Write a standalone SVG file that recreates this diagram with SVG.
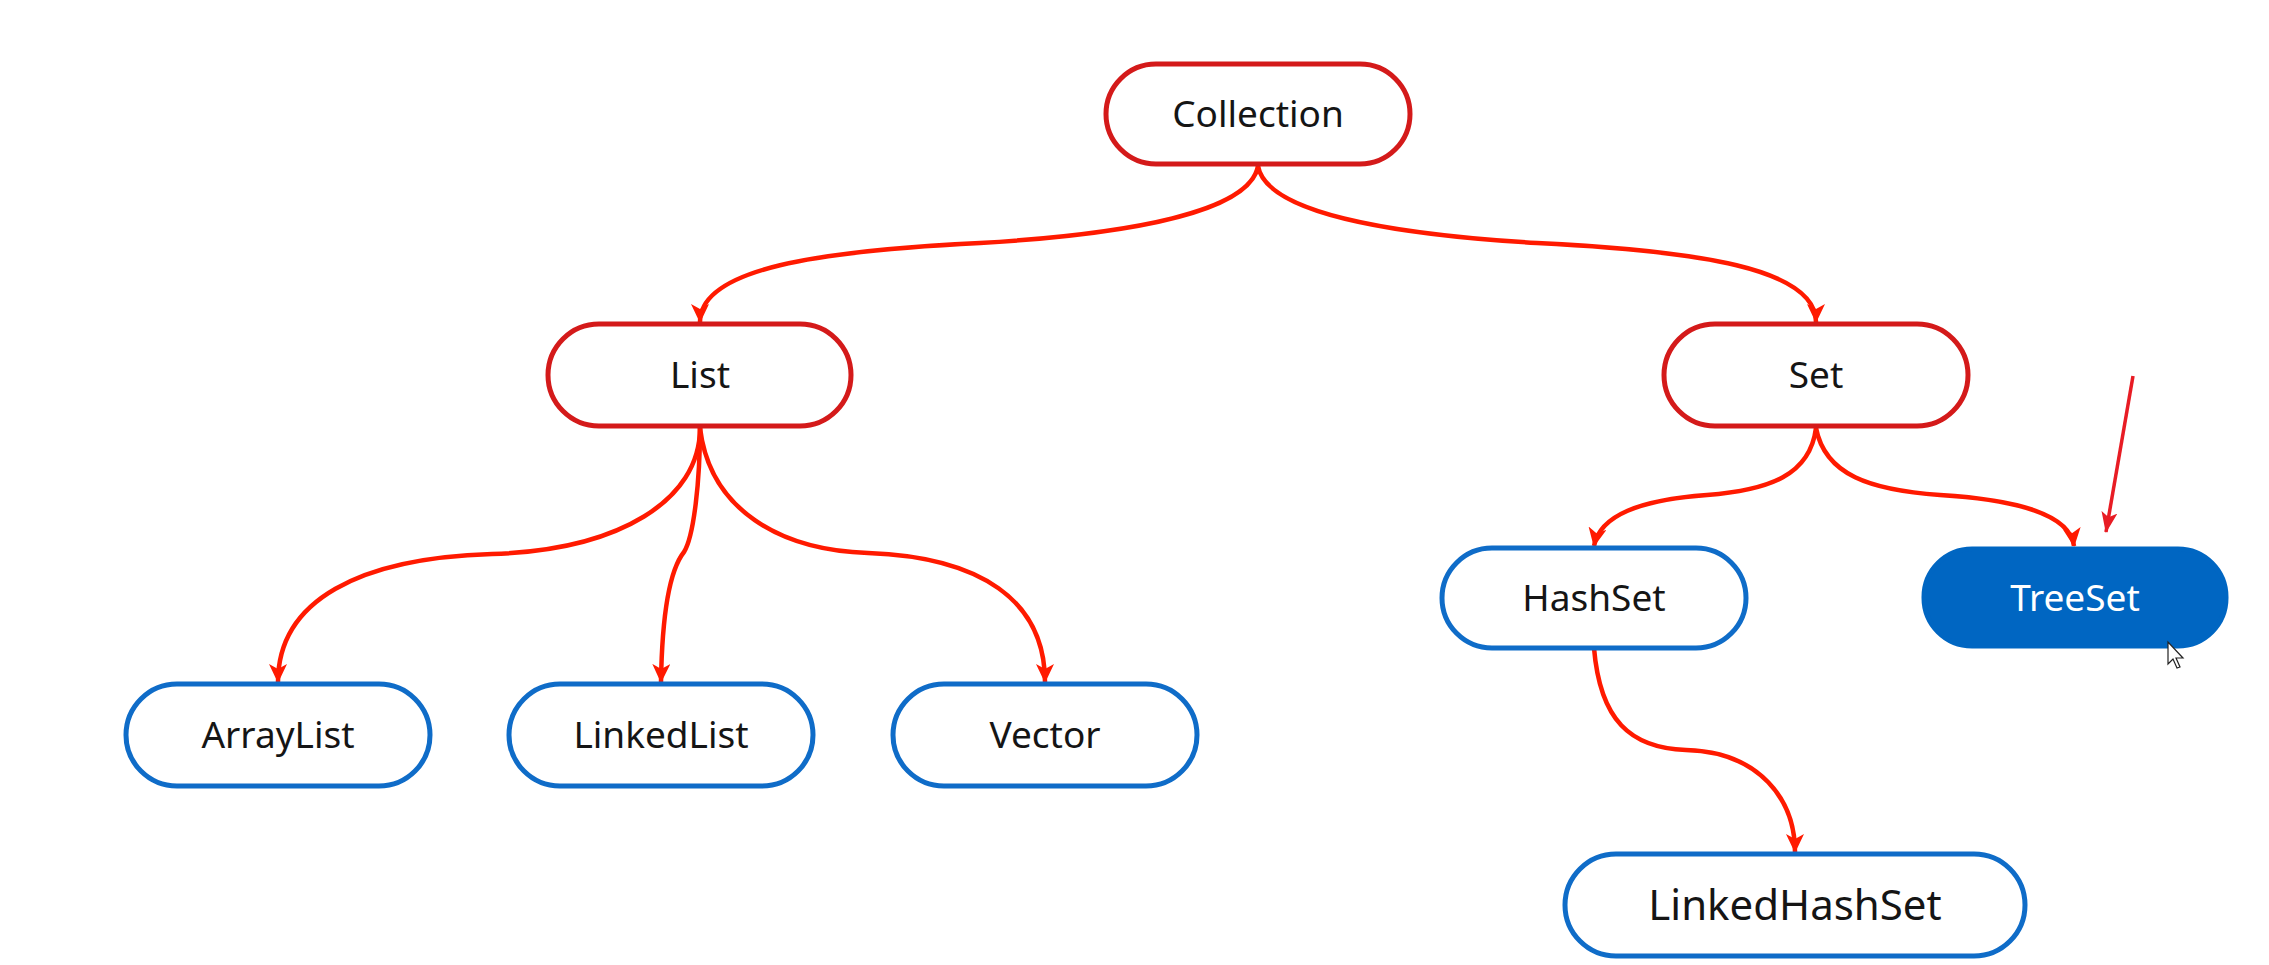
<svg xmlns="http://www.w3.org/2000/svg" width="2269" height="965" viewBox="0 0 2269 965">
<style>
.red rect{fill:#fff;stroke:#d41a1a;stroke-width:5}
.blue rect{fill:#fff;stroke:#0f6cc8;stroke-width:5}
.filled rect{fill:#0066c2;stroke:#0066c2;stroke-width:5}
text{font-family:"Noto Sans","Open Sans",sans-serif;font-size:37px;fill:#151515;text-anchor:middle}
.filled text{fill:#fff}
.conn path{fill:none;stroke:#ff1a00;stroke-width:4.5}
</style>
<defs>
<marker id="ah" markerUnits="userSpaceOnUse" markerWidth="20" markerHeight="20" refX="18" refY="9" orient="auto">
<path d="M0,0 L19,9 L0,18 L5,9 Z" fill="#ff1a00"/>
</marker>
<marker id="ah2" markerUnits="userSpaceOnUse" markerWidth="22" markerHeight="18" refX="20" refY="8" orient="auto">
<path d="M0,0 L21,8 L0,16 L5,8 Z" fill="#e81c24"/>
</marker>
</defs>
<rect width="2269" height="965" fill="#fff"/>
<g class="conn">
<path d="M1258,166 C1250,212 1130,234 980,243 C820,251 700,268 700,322" marker-end="url(#ah)"/>
<path d="M1258,166 C1266,212 1386,234 1537,243 C1697,251 1816,268 1816,322" marker-end="url(#ah)"/>
<path d="M700,428 C700,500 620,550 492,554 C360,558 278,600 278,682" marker-end="url(#ah)"/>
<path d="M700,428 C700,480 694,536 684,552 C668,572 662,620 661,682" marker-end="url(#ah)"/>
<path d="M700,428 C710,510 780,550 868,553 C980,557 1045,600 1045,682" marker-end="url(#ah)"/>
<path d="M1816,428 C1810,475 1770,490 1707,495 C1640,500 1600,515 1594,546" marker-end="url(#ah)"/>
<path d="M1816,428 C1825,475 1870,490 1940,495 C2020,500 2070,515 2074,546" marker-end="url(#ah)"/>
<path d="M1594,648 C1600,720 1630,748 1686,750 C1760,752 1795,800 1795,852" marker-end="url(#ah)"/>
<path d="M2133,376 L2106,532" style="stroke:#e81c24;stroke-width:3.5" marker-end="url(#ah2)"/>
</g>
<g id="collection" class="red"><rect x="1106" y="64" width="304" height="100" rx="50"/><text x="1258" y="127">Collection</text></g>
<g id="list" class="red"><rect x="548" y="324" width="303" height="102" rx="51"/><text x="700" y="388">List</text></g>
<g id="set" class="red"><rect x="1664" y="324" width="304" height="102" rx="51"/><text x="1816" y="388">Set</text></g>
<g id="arraylist" class="blue"><rect x="126" y="684" width="304" height="102" rx="51"/><text x="278" y="748">ArrayList</text></g>
<g id="linkedlist" class="blue"><rect x="509" y="684" width="304" height="102" rx="51"/><text x="661" y="748">LinkedList</text></g>
<g id="vector" class="blue"><rect x="893" y="684" width="304" height="102" rx="51"/><text x="1045" y="748">Vector</text></g>
<g id="hashset" class="blue"><rect x="1442" y="548" width="304" height="100" rx="50"/><text x="1594" y="611">HashSet</text></g>
<g id="treeset" class="filled"><rect x="1924" y="549" width="302" height="97" rx="48"/><text x="2075" y="611">TreeSet</text></g>
<g id="linkedhashset" class="blue"><rect x="1565" y="854" width="460" height="102" rx="51"/><text x="1795" y="920" style="font-size:42px">LinkedHashSet</text></g>
<path d="M2168,642 L2168,664 L2173,659 L2177,668 L2180,667 L2176,658 L2183,658 Z" fill="#fff" stroke="#222" stroke-width="1.2"/>
</svg>
